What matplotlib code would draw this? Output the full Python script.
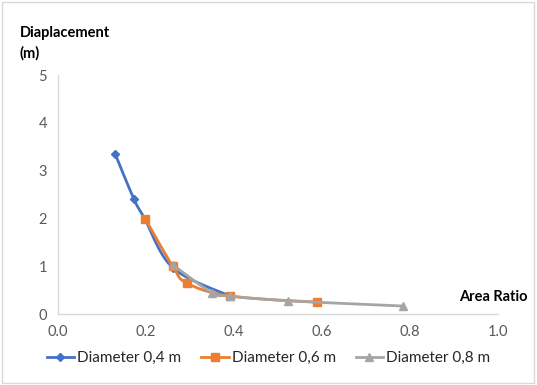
import numpy as np
import matplotlib
matplotlib.use("Agg")
import matplotlib.pyplot as plt
from matplotlib.patches import Rectangle

plt.rcParams['font.family'] = ['Lato', 'DejaVu Sans']
plt.rcParams['font.size'] = 10

# data
x_d04 = [0.13, 0.173, 0.197, 0.261, 0.39]
y_d04 = [3.35, 2.40, 2.00, 0.97, 0.38]
x_d06 = [0.198, 0.261, 0.293, 0.39, 0.589]
y_d06 = [2.00, 1.00, 0.65, 0.38, 0.25]
x_d08 = [0.261, 0.35, 0.39, 0.523, 0.784]
y_d08 = [1.03, 0.45, 0.38, 0.28, 0.17]

series = [
    (x_d04, y_d04, '#4472C4', 'D', 4, 'Diameter 0,4 m'),
    (x_d06, y_d06, '#ED7D31', 's', 6, 'Diameter 0,6 m'),
    (x_d08, y_d08, '#A5A5A5', '^', 6, 'Diameter 0,8 m'),
]


def smooth(xs, ys, n=20):
    # catmull-rom style smoothing, like excel "smoothed line"
    pts = np.column_stack([xs, ys])
    p = np.vstack([pts[0], pts, pts[-1]])
    out = []
    for i in range(1, len(p) - 2):
        p0, p1, p2, p3 = p[i - 1], p[i], p[i + 1], p[i + 2]
        t = np.linspace(0, 1, n)[:, None]
        c1 = p1 + (p2 - p0) / 6
        c2 = p2 - (p3 - p1) / 6
        seg = ((1 - t) ** 3) * p1 + 3 * ((1 - t) ** 2) * t * c1 \
            + 3 * (1 - t) * t ** 2 * c2 + t ** 3 * p2
        out.append(seg)
    out = np.vstack(out)
    return out[:, 0], out[:, 1]


fig = plt.figure(figsize=(5.37, 3.85), dpi=100)
ax = fig.add_axes([0.108, 0.184, 0.819, 0.621])

for xs, ys, col, mk, ms, lab in series:
    sx, sy = smooth(xs, ys)
    ax.plot(sx, sy, color=col, lw=2, solid_capstyle='round')
    ax.plot(xs, ys, ls='none', marker=mk, ms=ms, color=col)
    ax.plot([], [], color=col, lw=2, marker=mk, ms=ms, label=lab)

ax.set_xlim(0, 1.0)
ax.set_ylim(0, 5)
ax.set_xticks(np.arange(0, 1.01, 0.2))
ax.set_xticklabels([f"{v:.1f}" for v in np.arange(0, 1.01, 0.2)])
ax.set_yticks(range(0, 6))
ax.tick_params(length=0, colors='#595959', labelsize=10.5, pad=8)
for s in ['top', 'right']:
    ax.spines[s].set_visible(False)
for s in ['left', 'bottom']:
    ax.spines[s].set_color('#D9D9D9')
    ax.spines[s].set_linewidth(1)

fig.text(0.037, 0.888, 'Diaplacement\n(m)', fontweight='bold', fontsize=10.5,
         va='center', ha='left', linespacing=1.5)
fig.text(0.982, 0.228, 'Area Ratio', fontweight='bold', fontsize=10.5,
         ha='right', va='center')

fig.legend(loc='center', bbox_to_anchor=(0.5, 0.07), ncol=3, frameon=False,
           fontsize=11, handlelength=1.8, columnspacing=1.3, handletextpad=0.2,
           labelcolor='#262626')

fig.patches.append(Rectangle((0.004, 0.004), 0.99, 0.99, transform=fig.transFigure,
                             fill=False, edgecolor='#D9D9D9', lw=1))

fig.savefig('out.png', dpi=100)
